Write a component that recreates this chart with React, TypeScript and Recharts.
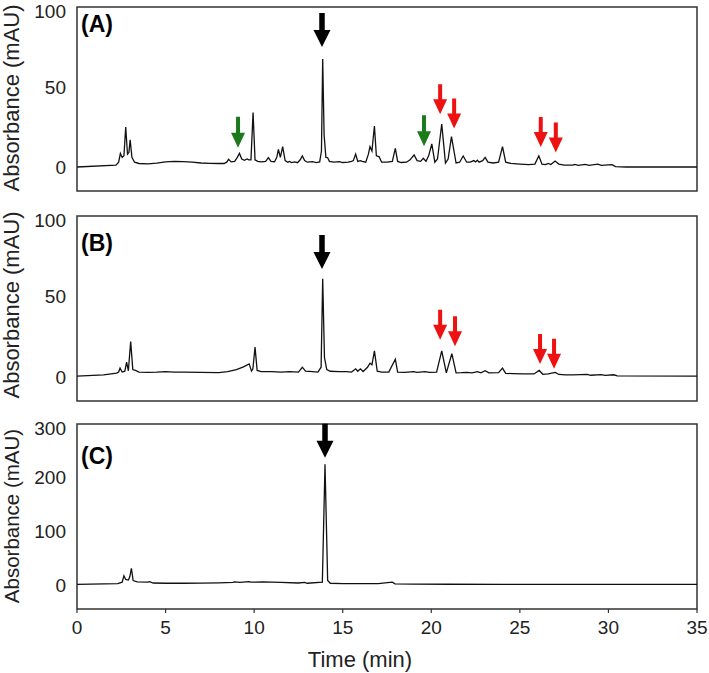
import React from "react"
import { LineChart, Line, XAxis, YAxis, ReferenceArea, ReferenceDot } from "recharts"

// chromatogram traces: [time (min), absorbance (mAU)]
const traceA: [number, number][] = [
  [0, 0], [2.2, 1.2], [2.35, 3], [2.45, 8.5], [2.55, 6], [2.65, 7], [2.75, 25], [2.85, 8],
  [2.93, 9], [3.0, 17], [3.1, 6], [3.25, 3], [3.5, 2.2], [4.0, 2], [4.5, 2.4], [5.0, 3.2],
  [5.5, 3.5], [6.0, 3.3], [6.5, 3], [7.0, 2.5], [7.5, 2.3], [8.0, 2.2], [8.3, 2.2], [8.45, 3],
  [8.56, 4.8], [8.7, 3.2], [8.9, 3.5], [9.05, 6], [9.17, 8.5], [9.3, 5], [9.45, 4.2], [9.6, 5],
  [9.7, 4.5], [9.82, 4.5], [9.94, 34], [10.05, 4.5], [10.2, 3.5], [10.4, 3.2], [10.65, 3.5],
  [10.8, 5.8], [10.95, 3.5], [11.15, 3.3], [11.28, 6], [11.37, 11], [11.48, 6], [11.61, 12.7],
  [11.75, 4], [11.9, 3], [12.0, 3.5], [12.1, 2.8], [12.3, 3.2], [12.45, 2.7], [12.6, 4.5],
  [12.72, 6.9], [12.85, 4], [13.0, 3], [13.3, 3.3], [13.5, 2.8], [13.7, 3.2], [13.8, 10],
  [13.87, 67.5], [13.95, 20], [14.05, 6], [14.15, 5.8], [14.25, 3.5], [14.5, 3], [14.8, 3.3],
  [15.0, 2.8], [15.3, 3], [15.5, 3.5], [15.6, 4], [15.73, 8.1], [15.85, 3.5], [16.0, 4],
  [16.1, 3.5], [16.3, 3], [16.45, 8], [16.54, 12.7], [16.65, 10], [16.79, 25.6], [16.9, 7],
  [17.05, 6.5], [17.2, 3], [17.5, 3], [17.8, 3.5], [17.97, 11.7], [18.1, 3.5], [18.3, 2.8],
  [18.6, 3], [18.8, 4.5], [19.03, 7.5], [19.2, 4], [19.4, 3.5], [19.55, 5.4], [19.7, 3.5],
  [19.85, 7], [20.03, 14.4], [20.2, 3], [20.35, 5], [20.59, 26.9], [20.8, 2.5], [20.95, 5],
  [21.14, 19], [21.4, 2.5], [21.6, 3], [21.8, 6.9], [22.0, 3], [22.2, 3], [22.4, 4],
  [22.5, 3.2], [22.6, 4.2], [22.7, 3], [22.9, 4], [23.04, 6], [23.2, 3], [23.5, 2.5],
  [23.8, 3], [24.02, 12.7], [24.2, 3], [24.5, 2.2], [25.0, 1.8], [25.5, 1.5], [25.85, 1.8],
  [26.07, 7], [26.25, 1.8], [26.45, 1.5], [26.6, 2.2], [26.75, 1.5], [26.99, 3.7], [27.2, 1.8],
  [27.5, 1.2], [28.0, 1.2], [28.1, 1.6], [28.3, 1], [28.7, 1.6], [28.9, 1], [29.4, 1.8],
  [29.6, 1], [30.2, 1.5], [30.4, 0.2], [31, 0], [35, 0],
]

const traceB: [number, number][] = [
  [0, 0.5], [1.5, 1.3], [2.24, 2.3], [2.35, 3], [2.43, 5.4], [2.55, 3], [2.7, 3.5], [2.8, 9.2],
  [2.9, 3.8], [3.03, 21.9], [3.15, 4.5], [3.3, 4], [3.5, 3], [4.0, 2.8], [4.5, 2.9], [5.0, 3.2],
  [5.5, 3], [6.0, 2.9], [7.0, 2.8], [8.0, 2.6], [8.5, 3.2], [9.0, 4.5], [9.4, 6.2], [9.72, 8.1],
  [9.85, 3.6], [9.93, 5], [10.05, 18.5], [10.17, 4], [10.4, 3.2], [11.0, 3.3], [11.5, 3],
  [12.0, 3.2], [12.5, 3], [12.72, 6], [12.9, 3.5], [13.3, 3.3], [13.6, 3], [13.78, 6],
  [13.87, 61], [13.97, 12], [14.1, 4.5], [14.3, 3.5], [14.8, 3.2], [15.2, 3.3], [15.5, 3],
  [15.73, 5], [15.85, 3.5], [16.0, 5], [16.15, 3.3], [16.4, 6], [16.54, 8.5], [16.65, 7.5],
  [16.79, 16.2], [16.95, 3.5], [17.2, 3], [17.6, 3], [17.97, 11], [18.1, 3], [18.5, 2.8],
  [19.0, 3.3], [19.2, 2.8], [19.65, 3.2], [19.9, 2.8], [20.3, 3], [20.59, 16.2], [20.85, 2.5],
  [21.16, 14.4], [21.4, 2.5], [21.7, 2.6], [22.0, 2.8], [22.3, 2.5], [22.6, 3.2], [22.8, 2.5],
  [23.04, 3.8], [23.25, 2.5], [23.8, 2.6], [24.02, 5.4], [24.2, 2.2], [24.6, 2], [25.2, 1.8],
  [25.8, 1.8], [26.09, 4], [26.3, 1.6], [26.6, 1.8], [27.0, 2.8], [27.2, 1.5], [27.6, 1.2],
  [28.0, 1.2], [28.8, 1.5], [29.0, 1], [29.6, 1.4], [29.8, 0.9], [30.3, 1.3], [30.5, 0.6],
  [35, 0.5],
]

const traceC: [number, number][] = [
  [0, 1], [2.3, 2.5], [2.55, 5], [2.65, 17], [2.75, 10], [2.9, 9], [2.98, 15], [3.07, 31],
  [3.17, 8], [3.4, 5.5], [4.0, 5], [4.1, 6], [4.3, 3.5], [5.0, 3], [6.0, 3], [7.0, 3.2],
  [8.0, 3.8], [8.8, 4.5], [8.9, 5.5], [9.2, 4.5], [9.7, 6], [9.8, 5], [10.5, 5.5], [11.5, 4.5],
  [12.5, 3.5], [12.85, 4.5], [13.0, 3], [13.85, 5], [14.0, 225], [14.15, 8], [14.3, 3],
  [15.0, 2.5], [16.0, 2.2], [17.0, 2.2], [17.8, 5], [17.95, 2], [19.0, 1.5], [21.0, 1.2],
  [24.0, 1], [35, 0.8],
]

// arrow markers: time, absorbance at the arrow tip, kind
type Mark = { t: number; tip: number; kind: "main" | "green" | "red" }
const arrowsA: Mark[] = [
  { t: 13.83, tip: 75, kind: "main" },
  { t: 9.09, tip: 12, kind: "green" },
  { t: 19.59, tip: 13, kind: "green" },
  { t: 20.5, tip: 33, kind: "red" },
  { t: 21.29, tip: 24, kind: "red" },
  { t: 26.18, tip: 12.5, kind: "red" },
  { t: 27.03, tip: 9, kind: "red" },
]
const arrowsB: Mark[] = [
  { t: 13.83, tip: 67, kind: "main" },
  { t: 20.5, tip: 23, kind: "red" },
  { t: 21.34, tip: 19, kind: "red" },
  { t: 26.14, tip: 8, kind: "red" },
  { t: 26.93, tip: 5, kind: "red" },
]
const arrowsC: Mark[] = [{ t: 14.0, tip: 237, kind: "main" }]

const timeTicks = [0, 5, 10, 15, 20, 25, 30, 35]
const ticksAB = [0, 50, 100]
const ticksC = [0, 100, 200, 300]

const FONT = "'Liberation Sans', Arial, sans-serif"
const ARROW_STYLE = {
  main: { color: "#000", len: 34, shaft: 5.5, headW: 17, headL: 17 },
  green: { color: "#1b7a1b", len: 31, shaft: 4, headW: 14, headL: 15 },
  red: { color: "#ee1111", len: 30, shaft: 4, headW: 14, headL: 15 },
}

const toRows = (tr: [number, number][]) => tr.map(([t, v]) => ({ t, v }))

function Arrow(props: any) {
  const { cx, cy, kind } = props
  const s = ARROW_STYLE[kind as Mark["kind"]]
  const x = cx
  const y = cy
  const d = [
    `M${x - s.shaft / 2},${y - s.len}`,
    `L${x + s.shaft / 2},${y - s.len}`,
    `L${x + s.shaft / 2},${y - s.headL}`,
    `L${x + s.headW / 2},${y - s.headL}`,
    `L${x},${y}`,
    `L${x - s.headW / 2},${y - s.headL}`,
    `L${x - s.shaft / 2},${y - s.headL}`,
    "Z",
  ].join(" ")
  return <path d={d} fill={s.color} stroke="none" />
}

function Panel({
  rows,
  arrows,
  domain,
  ticks,
  top,
  height,
  marginBottom,
  showX,
}: {
  rows: { t: number; v: number }[]
  arrows: Mark[]
  domain: [number, number]
  ticks: number[]
  top: number
  height: number
  marginBottom: number
  showX: boolean
}) {
  return (
    <div style={{ position: "absolute", left: 0, top }}>
      <LineChart
        width={709}
        height={height}
        data={rows}
        margin={{ top: 7, right: 12, bottom: marginBottom, left: 0 }}
      >
        <XAxis
          dataKey="t"
          type="number"
          domain={[0, 35]}
          ticks={timeTicks}
          hide={!showX}
          height={60}
          axisLine={false}
          tickLine={{ stroke: "#333", strokeWidth: 1.2 }}
          tickSize={4}
          tickMargin={8}
          tick={{ fontSize: 19, fill: "#222", fontFamily: FONT }}
        />
        <YAxis
          type="number"
          domain={domain}
          ticks={ticks}
          width={77}
          axisLine={false}
          tickLine={false}
          tickSize={0}
          tickMargin={11}
          tick={{ fontSize: 19, fill: "#222", fontFamily: FONT }}
        />
        <ReferenceArea
          x1={0}
          x2={35}
          y1={domain[0]}
          y2={domain[1]}
          fill="none"
          stroke="#333"
          strokeWidth={1.5}
          ifOverflow="visible"
        />
        <Line
          type="linear"
          dataKey="v"
          stroke="#111"
          strokeWidth={1.3}
          dot={false}
          isAnimationActive={false}
        />
        {arrows.map((a, i) => (
          <ReferenceDot
            key={i}
            x={a.t}
            y={a.tip}
            ifOverflow="visible"
            shape={(p: any) => <Arrow {...p} kind={a.kind} />}
          />
        ))}
      </LineChart>
    </div>
  )
}

export default function App() {
  return (
    <div style={{ position: "absolute", left: 0, top: 0, width: 709, height: 673, background: "#fff", fontFamily: FONT }}>
      <Panel rows={toRows(traceA)} arrows={arrowsA} domain={[-15, 100]} ticks={ticksAB} top={0} height={200} marginBottom={9} showX={false} />
      <Panel rows={toRows(traceB)} arrows={arrowsB} domain={[-15, 100]} ticks={ticksAB} top={209} height={200} marginBottom={8} showX={false} />
      <Panel rows={toRows(traceC)} arrows={arrowsC} domain={[-45, 300]} ticks={ticksC} top={417} height={256} marginBottom={4} showX={true} />
      <svg width={709} height={673} style={{ position: "absolute", left: 0, top: 0, pointerEvents: "none" }}>
        <g fontFamily={FONT} fill="#222">
          <text transform="translate(18.5,98) rotate(-90)" textAnchor="middle" fontSize={22}>Absorbance (mAU)</text>
          <text transform="translate(18.5,305) rotate(-90)" textAnchor="middle" fontSize={22}>Absorbance (mAU)</text>
          <text transform="translate(18.5,516) rotate(-90)" textAnchor="middle" fontSize={20.5}>Absorbance (mAU)</text>
          <text x={81} y={32} fontSize={23} fontWeight="bold" fill="#000">(A)</text>
          <text x={81} y={251} fontSize={23} fontWeight="bold" fill="#000">(B)</text>
          <text x={81} y={464} fontSize={23} fontWeight="bold" fill="#000">(C)</text>
          <text x={360} y={667} textAnchor="middle" fontSize={22}>Time (min)</text>
        </g>
      </svg>
    </div>
  )
}
